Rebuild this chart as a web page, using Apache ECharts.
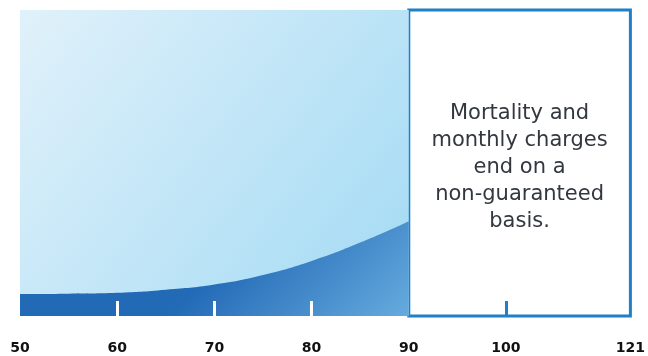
<!DOCTYPE html>
<html>
<head>
<meta charset="utf-8">
<script src="https://cdn.jsdelivr.net/npm/echarts@6/dist/echarts.min.js"></script>
<style>
    html, body { margin: 0; padding: 0; background: #fff; }
    #chart { width: 648px; height: 356px; }
</style>
</head>
<body>
<div id="chart"></div>
<script>
    // cost of insurance curve, ages 50 - 90
    const ages = [50, 55, 60, 65, 70, 75, 80, 85, 90];
    const chargeLevel = [7.2, 7.3, 7.6, 8.6, 10.3, 13.4, 18, 24, 31];

    // background panel before charges end
    const panelAges = [50, 90];
    const panelLevel = [100, 100];

    // box where charges end (90 -> 121)
    const boxStart = 90;
    const boxEndPos = 112.8;   // 121 is drawn compressed at the right edge
    const boxText = 'Mortality and\nmonthly charges\nend on a\nnon-guaranteed\nbasis.';

    const tickLabels = [50, 60, 70, 80, 90, 100, 121];
    const whiteTicks = [60, 70, 80];
    const blueTicks = [100];

    const labelPos = tickLabels.map(v => v === 121 ? boxEndPos : v);

    const chart = echarts.init(document.getElementById('chart'));
    chart.setOption({
        animation: false,
        grid: { left: 20, right: 15, top: 10, bottom: 40 },
        xAxis: [
            {
                type: 'value',
                min: 50,
                max: boxEndPos,
                z: 10,
                axisLine: { show: false },
                splitLine: { show: false },
                axisTick: {
                    show: true,
                    inside: true,
                    length: 15,
                    customValues: whiteTicks,
                    lineStyle: { color: '#ffffff', width: 3 }
                },
                axisLabel: {
                    customValues: labelPos,
                    margin: 25,
                    fontFamily: 'DejaVu Sans',
                    fontWeight: 'bold',
                    fontSize: 14,
                    color: '#111111',
                    formatter: v => (v === boxEndPos ? '121' : String(v))
                }
            },
            {
                type: 'value',
                min: 50,
                max: boxEndPos,
                position: 'bottom',
                z: 10,
                axisLine: { show: false },
                splitLine: { show: false },
                axisLabel: { show: false },
                axisTick: {
                    show: true,
                    inside: true,
                    length: 15,
                    customValues: blueTicks,
                    lineStyle: { color: '#1f80c8', width: 3 }
                }
            }
        ],
        yAxis: {
            type: 'value',
            min: 0,
            max: 100,
            show: false
        },
        series: [
            {
                type: 'line',
                data: panelAges.map((a, i) => [a, panelLevel[i]]),
                showSymbol: false,
                lineStyle: { width: 0 },
                areaStyle: {
                    opacity: 1,
                    color: new echarts.graphic.LinearGradient(0, 0, 1, 1, [
                        { offset: 0, color: '#e0f1fa' },
                        { offset: 1, color: '#a2daf4' }
                    ])
                },
                markArea: {
                    silent: true,
                    itemStyle: {
                        color: '#ffffff',
                        borderColor: '#1f80c8',
                        borderWidth: 3
                    },
                    label: {
                        show: true,
                        position: 'inside',
                        formatter: boxText,
                        fontFamily: 'DejaVu Sans',
                        fontSize: 21,
                        lineHeight: 27,
                        offset: [0, 5],
                        color: '#33373e',
                        align: 'center'
                    },
                    data: [[{ coord: [boxStart, 100] }, { coord: [boxEndPos, 0] }]]
                },
                z: 1
            },
            {
                type: 'line',
                data: ages.map((a, i) => [a, chargeLevel[i]]),
                smooth: true,
                showSymbol: false,
                lineStyle: { width: 0 },
                areaStyle: {
                    opacity: 1,
                    color: new echarts.graphic.LinearGradient(280, 200, 410, 330, [
                        { offset: 0, color: '#2269b6' },
                        { offset: 1, color: '#6aafe0' }
                    ], true)
                },
                z: 2
            }
        ]
    });
</script>
</body>
</html>
